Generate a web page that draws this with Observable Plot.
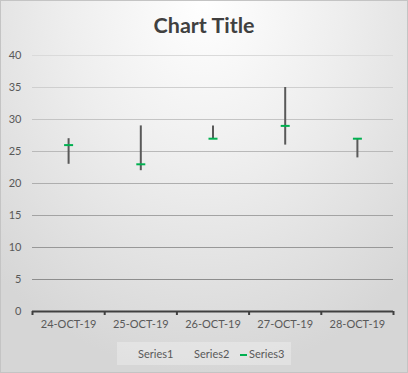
<!DOCTYPE html>
<html>
<head>
<meta charset="utf-8">
<script src="https://cdn.jsdelivr.net/npm/d3@7"></script>
<script src="https://cdn.jsdelivr.net/npm/@observablehq/plot@0.6"></script>
<style>
  html, body { margin: 0; padding: 0; background: #fff; }
  #chart {
    position: relative; width: 408px; height: 373px; overflow: hidden;
    background: radial-gradient(ellipse 75% 100% at 50% 0%, #ffffff 0%, #eeeeee 45%, #d6d6d6 100%);
    font-family: Lato, "Open Sans", sans-serif;
  }
  #title {
    position: absolute; left: 0; top: 11px; width: 408px; text-align: center;
    font-size: 21.5px; font-weight: bold; color: #404040; line-height: 28px;
  }
  #plot { position: absolute; left: 0; top: 45px; }
  #legend {
    position: absolute; left: 117px; top: 342px; width: 174px; height: 23px;
    background: rgba(255,255,255,0.28); font-size: 11px; color: #595959;
  }
  #legend .item { position: absolute; top: 0; line-height: 23px; white-space: nowrap; }
  #legend .sw { display: inline-block; width: 7px; height: 2px; background: #00b050; vertical-align: middle; margin-right: 2px; }
  #frame { position: absolute; left: 0; top: 0; width: 406px; height: 371px; border: 1px solid #c4c4c4; pointer-events: none; }
</style>
</head>
<body>
<div id="chart">
  <div id="title">Chart Title</div>
  <div id="plot"></div>
  <div id="legend"></div>
  <div id="frame"></div>
</div>
<script>
const dates = ["24-OCT-19", "25-OCT-19", "26-OCT-19", "27-OCT-19", "28-OCT-19"];
const high  = [27, 29, 29, 35, 27];   // Series1
const low   = [23, 22, 27, 26, 24];   // Series2
const close = [26, 23, 27, 29, 27];   // Series3
const yTicks = [0, 5, 10, 15, 20, 25, 30, 35, 40];
const seriesNames = ["Series1", "Series2", "Series3"];

const data = dates.map((d, i) => ({date: d, i, high: high[i], low: low[i], close: close[i]}));
const boundaries = d3.range(dates.length + 1);
const centers = dates.map((d, i) => i + 0.5);

const gridColor = d3.scaleLinear().domain([40, 0]).range(["#dadada", "#828282"]);

const hline = {
  draw(context, size) {
    const w = Math.sqrt(size / Math.PI);
    context.moveTo(-w, 0);
    context.lineTo(w, 0);
  }
};

const chart = Plot.plot({
  width: 408,
  height: 290,
  marginTop: 10,
  marginBottom: 24,
  marginLeft: 32,
  marginRight: 15,
  style: {background: "transparent", fontFamily: "Lato, 'Open Sans', sans-serif"},
  x: {domain: [0, dates.length]},
  y: {domain: [0, 40]},
  marks: [
    Plot.gridY(yTicks, {stroke: d => gridColor(d), strokeOpacity: 1, strokeWidth: 1}),
    Plot.axisY(yTicks, {tickSize: 0, tickPadding: 11, fontSize: 11, fill: "#595959", label: null}),
    Plot.ruleY([0], {stroke: "#404040", strokeWidth: 2}),
    Plot.axisX(boundaries, {tickSize: 4, stroke: "#404040", strokeWidth: 2, tickFormat: () => "", label: null}),
    Plot.axisX(centers, {tickSize: 0, tickPadding: 9, fontSize: 11, fill: "#595959", tickFormat: d => dates[Math.floor(d)], label: null}),
    Plot.ruleX(data, {x: d => d.i + 0.5, y1: "low", y2: "high", stroke: "#595959", strokeWidth: 2}),
    Plot.dot(data, {x: d => d.i + 0.5, y: "close", symbol: hline, r: 4.5, stroke: "#00b050", strokeWidth: 2, fill: "none"})
  ]
});
document.getElementById("plot").appendChild(chart);

// legend
const legend = document.getElementById("legend");
const legendX = [21, 77, 123];
seriesNames.forEach((name, k) => {
  const el = document.createElement("div");
  el.className = "item";
  el.style.left = legendX[k] + "px";
  if (k === 2) {
    const sw = document.createElement("span");
    sw.className = "sw";
    el.appendChild(sw);
  }
  el.appendChild(document.createTextNode(name));
  legend.appendChild(el);
});
</script>
</body>
</html>
